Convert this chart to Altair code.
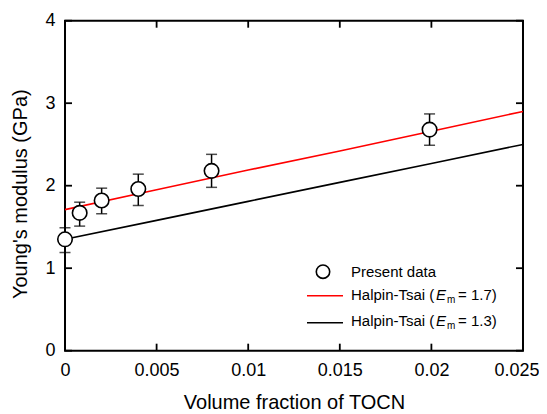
import altair as alt
import pandas as pd

# ---- data ----
vf = [0.0, 0.0008, 0.002, 0.004, 0.008, 0.0199]
modulus = [1.35, 1.67, 1.82, 1.96, 2.18, 2.68]
err_lo = [1.19, 1.51, 1.66, 1.76, 1.98, 2.49]
err_hi = [1.49, 1.80, 1.97, 2.14, 2.38, 2.87]

ht_x = [0.0, 0.005, 0.01, 0.015, 0.02, 0.025]
ht_17 = [1.71, 1.95, 2.19, 2.42, 2.66, 2.90]
ht_13 = [1.35, 1.58, 1.81, 2.04, 2.27, 2.50]

x_ticks = [0, 0.005, 0.01, 0.015, 0.02, 0.025]
y_ticks = [0, 1, 2, 3, 4]

W, H = 458, 330
FONT = "Liberation Sans"

pts = pd.DataFrame({"x": vf, "y": modulus, "lo": err_lo, "hi": err_hi})
lines = pd.DataFrame({
    "x": ht_x * 2,
    "y": ht_17 + ht_13,
    "s": ["Em=1.7"] * len(ht_x) + ["Em=1.3"] * len(ht_x),
})

xs = alt.Scale(domain=[0, 0.025], nice=False, zero=False)
ys = alt.Scale(domain=[0, 4], nice=False, zero=False)

last = "datum.value >= 0.0249"
xaxis = alt.Axis(values=x_ticks, format="~g", ticks=False, domain=False, grid=False,
                 labelFlush=False, labelOverlap=False,
                 labelAlign={"condition": {"test": last, "value": "right"}, "value": "center"},
                 labelOffset={"condition": {"test": last, "value": 16}, "value": 0},
                 labelFont=FONT, labelFontSize=18, labelColor="black", labelPadding=11,
                 title="Volume fraction of TOCN", titleFont=FONT, titleFontSize=20,
                 titleFontWeight="normal", titleColor="black",
                 titleBaseline="middle", titleY=52, titleX=W / 2)
yaxis = alt.Axis(values=y_ticks, format="d", ticks=False, domain=False, grid=False,
                 labelFlush=False, labelOverlap=False,
                 labelFont=FONT, labelFontSize=18, labelColor="black", labelPadding=10,
                 title="Young's modulus (GPa)", titleFont=FONT, titleFontSize=20,
                 titleFontWeight="normal", titleColor="black", titleAngle=-90,
                 titleBaseline="middle", titleX=-45, titleY=173)

base = alt.Chart(pts)

ht_lines = alt.Chart(lines).mark_line(strokeWidth=1.6).encode(
    x=alt.X("x:Q", scale=xs, axis=xaxis),
    y=alt.Y("y:Q", scale=ys, axis=yaxis),
    color=alt.Color("s:N", scale=alt.Scale(domain=["Em=1.7", "Em=1.3"],
                                           range=["#ff0000", "#000000"]), legend=None),
    detail="s:N",
)

ebars = base.mark_rule(color="black", strokeWidth=1.5).encode(
    x=alt.X("x:Q", scale=xs), y=alt.Y("lo:Q", scale=ys), y2="hi:Q")
cap_top = base.mark_tick(color="black", thickness=1.5, size=11, orient="horizontal").encode(
    x=alt.X("x:Q", scale=xs), y=alt.Y("hi:Q", scale=ys))
cap_bot = base.mark_tick(color="black", thickness=1.5, size=11, orient="horizontal").encode(
    x=alt.X("x:Q", scale=xs), y=alt.Y("lo:Q", scale=ys))
circles = base.mark_point(shape="circle", filled=True, fill="white", stroke="black",
                          strokeWidth=1.6, size=210, opacity=1).encode(
    x=alt.X("x:Q", scale=xs), y=alt.Y("y:Q", scale=ys))

# inward ticks on all four sides
xt = pd.DataFrame({"v": x_ticks})
yt = pd.DataFrame({"v": y_ticks})
tick_b = alt.Chart(xt).mark_rule(color="black", strokeWidth=1.8).encode(
    x=alt.X("v:Q", scale=xs), y=alt.value(H), y2=alt.value(H - 7))
tick_t = alt.Chart(xt).mark_rule(color="black", strokeWidth=1.8).encode(
    x=alt.X("v:Q", scale=xs), y=alt.value(0), y2=alt.value(7))
tick_l = alt.Chart(yt).mark_rule(color="black", strokeWidth=1.8).encode(
    y=alt.Y("v:Q", scale=ys), x=alt.value(0), x2=alt.value(7))
tick_r = alt.Chart(yt).mark_rule(color="black", strokeWidth=1.8).encode(
    y=alt.Y("v:Q", scale=ys), x=alt.value(W), x2=alt.value(W - 7))

# legend (built by hand for the italic E with subscript m)
def txt(s, x, y, size=15, style="normal"):
    return alt.Chart(pd.DataFrame({"t": [s]})).mark_text(
        align="left", baseline="middle", font=FONT, fontSize=size, fontStyle=style,
        color="black").encode(x=alt.value(x), y=alt.value(y), text="t:N")

leg_circle = alt.Chart(pd.DataFrame({"t": ["Present data"]})).mark_point(
    shape="circle", filled=True, fill="white", stroke="black", strokeWidth=1.6,
    size=180, opacity=1).encode(x=alt.value(258), y=alt.value(251))
leg_red = alt.Chart(pd.DataFrame({"t": ["r"]})).mark_rule(color="#ff0000", strokeWidth=1.6).encode(
    x=alt.value(242), x2=alt.value(278), y=alt.value(275))
leg_blk = alt.Chart(pd.DataFrame({"t": ["b"]})).mark_rule(color="black", strokeWidth=1.6).encode(
    x=alt.value(242), x2=alt.value(278), y=alt.value(302))

legend = [
    leg_circle, leg_red, leg_blk,
    txt("Present data", 286, 251),
    txt("Halpin-Tsai (", 286, 274), txt("E", 371, 274, style="italic"),
    txt("m", 382, 279, size=10), txt("= 1.7)", 393, 274),
    txt("Halpin-Tsai (", 286, 300), txt("E", 371, 300, style="italic"),
    txt("m", 382, 305, size=10), txt("= 1.3)", 393, 300),
]

chart = alt.layer(
    ht_lines, ebars, cap_top, cap_bot, circles,
    tick_b, tick_t, tick_l, tick_r, *legend
).properties(
    width=W, height=H,
    autosize=alt.AutoSizeParams(type="none"),
    padding={"left": 57, "top": 12.7, "right": 16, "bottom": 62},
    background="white",
).configure_view(stroke="black", strokeWidth=2)

chart.save("out.html", embed_options={"renderer": "svg", "actions": False})
